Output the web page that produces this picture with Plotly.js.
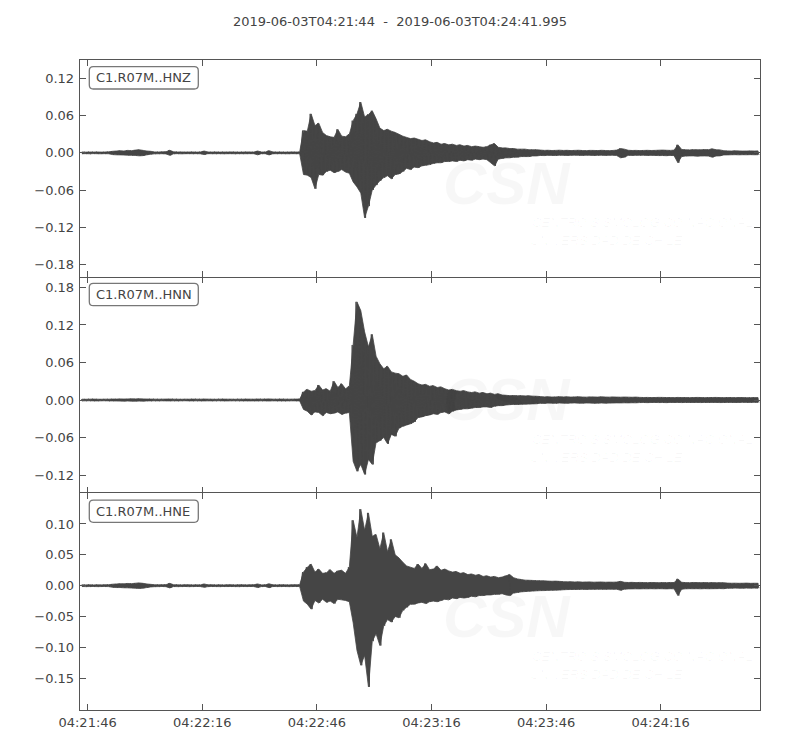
<!DOCTYPE html>
<html>
<head>
<meta charset="utf-8">
<script src="https://cdn.plot.ly/plotly-3.0.1.min.js"></script>
<style>html,body{margin:0;padding:0;background:#fff;}#chart{width:800px;height:750px;}</style>
</head>
<body>
<div id="chart"></div>
<script>
// ---- data (per-second upper / lower envelope of each trace) ----
const startTime = "2019-06-03T04:21:44";
const endTime = "2019-06-03T04:24:41.995";
const channels = ["C1.R07M..HNZ", "C1.R07M..HNN", "C1.R07M..HNE"];

const hnzUpper = [
0.0015,0.0012,0.0014,0.0013,0.0015,0.0012,0.0014,0.0016,0.0025,0.0030,
0.0035,0.0030,0.0040,0.0035,0.0045,0.0050,0.0040,0.0030,0.0025,0.0015,
0.0014,0.0016,0.0018,0.0042,0.0016,0.0014,0.0015,0.0013,0.0014,0.0015,
0.0012,0.0014,0.0030,0.0014,0.0013,0.0015,0.0012,0.0014,0.0013,0.0015,
0.0014,0.0012,0.0013,0.0015,0.0014,0.0013,0.0030,0.0014,0.0013,0.0035,
0.0015,0.0013,0.0014,0.0012,0.0013,0.0015,0.0014,0.0013,0.036,0.035,
0.063,0.044,0.048,0.033,0.028,0.026,0.025,0.038,0.027,0.026,
0.030,0.052,0.063,0.082,0.058,0.062,0.068,0.055,0.040,0.036,
0.038,0.035,0.033,0.030,0.027,0.025,0.023,0.024,0.022,0.020,
0.021,0.018,0.016,0.017,0.014,0.015,0.013,0.014,0.012,0.013,
0.011,0.012,0.010,0.011,0.010,0.009,0.010,0.013,0.015,0.009,
0.008,0.008,0.007,0.007,0.006,0.006,0.006,0.005,0.005,0.005,
0.0045,0.0040,0.0042,0.0038,0.0040,0.0043,0.0039,0.0041,0.0037,0.0040,
0.0042,0.0038,0.0036,0.0040,0.0039,0.0037,0.0041,0.0038,0.0036,0.0039,
0.0045,0.0070,0.0060,0.0042,0.0038,0.0040,0.0037,0.0039,0.0041,0.0038,
0.0040,0.0043,0.0045,0.0042,0.0040,0.0044,0.0130,0.0055,0.0050,0.0048,
0.0052,0.0050,0.0049,0.0053,0.0051,0.0065,0.0050,0.0048,0.0035,0.0032,
0.0030,0.0033,0.0031,0.0029,0.0030,0.0032,0.0030,0.0031];
const hnzLower = [
-0.0014,-0.0013,-0.0015,-0.0012,-0.0014,-0.0015,-0.0013,-0.0015,-0.0028,-0.0032,
-0.0033,-0.0035,-0.0038,-0.0040,-0.0042,-0.0048,-0.0045,-0.0032,-0.0022,-0.0016,
-0.0015,-0.0014,-0.0017,-0.0040,-0.0015,-0.0013,-0.0016,-0.0014,-0.0013,-0.0014,
-0.0013,-0.0015,-0.0028,-0.0013,-0.0014,-0.0014,-0.0013,-0.0015,-0.0014,-0.0013,
-0.0015,-0.0013,-0.0014,-0.0014,-0.0013,-0.0014,-0.0032,-0.0013,-0.0014,-0.0033,
-0.0014,-0.0014,-0.0013,-0.0014,-0.0015,-0.0013,-0.0014,-0.0014,-0.035,-0.036,
-0.040,-0.058,-0.035,-0.036,-0.030,-0.028,-0.032,-0.030,-0.027,-0.031,
-0.033,-0.047,-0.055,-0.065,-0.105,-0.086,-0.060,-0.052,-0.045,-0.040,
-0.037,-0.042,-0.035,-0.034,-0.030,-0.025,-0.027,-0.023,-0.024,-0.021,
-0.020,-0.019,-0.017,-0.016,-0.016,-0.014,-0.014,-0.013,-0.014,-0.012,
-0.013,-0.011,-0.012,-0.010,-0.011,-0.010,-0.011,-0.016,-0.021,-0.010,
-0.009,-0.008,-0.008,-0.007,-0.007,-0.006,-0.006,-0.006,-0.005,-0.005,
-0.0042,-0.0044,-0.0039,-0.0041,-0.0043,-0.0038,-0.0040,-0.0042,-0.0039,-0.0037,
-0.0040,-0.0041,-0.0038,-0.0039,-0.0042,-0.0040,-0.0038,-0.0041,-0.0039,-0.0038,
-0.0044,-0.0080,-0.0070,-0.0040,-0.0041,-0.0039,-0.0040,-0.0038,-0.0042,-0.0040,
-0.0041,-0.0044,-0.0043,-0.0046,-0.0041,-0.0045,-0.0160,-0.0058,-0.0052,-0.0050,
-0.0049,-0.0053,-0.0051,-0.0050,-0.0052,-0.0070,-0.0051,-0.0049,-0.0034,-0.0033,
-0.0031,-0.0030,-0.0032,-0.0030,-0.0031,-0.0029,-0.0031,-0.0030];

const hnnUpper = [
0.0013,0.0012,0.0014,0.0015,0.0013,0.0012,0.0014,0.0013,0.0016,0.0015,
0.0018,0.0016,0.0017,0.0019,0.0018,0.0020,0.0017,0.0016,0.0015,0.0014,
0.0013,0.0014,0.0015,0.0016,0.0014,0.0013,0.0012,0.0014,0.0013,0.0015,
0.0014,0.0013,0.0016,0.0014,0.0013,0.0012,0.0014,0.0015,0.0013,0.0014,
0.0012,0.0014,0.0013,0.0015,0.0014,0.0013,0.0016,0.0014,0.0015,0.0017,
0.0014,0.0013,0.0015,0.0014,0.0013,0.0014,0.0015,0.0016,0.013,0.017,
0.014,0.015,0.024,0.016,0.018,0.014,0.030,0.020,0.026,0.018,
0.022,0.088,0.157,0.143,0.109,0.085,0.105,0.070,0.058,0.050,
0.054,0.045,0.043,0.042,0.038,0.040,0.033,0.030,0.026,0.024,
0.025,0.022,0.023,0.020,0.021,0.018,0.016,0.017,0.015,0.014,
0.015,0.013,0.012,0.013,0.011,0.012,0.010,0.011,0.009,0.010,
0.008,0.0075,0.007,0.0072,0.0068,0.007,0.0065,0.0068,0.0062,0.006,
0.0055,0.005,0.0052,0.0048,0.005,0.0053,0.0049,0.0051,0.0047,0.005,
0.0052,0.0048,0.0046,0.005,0.0049,0.0047,0.0051,0.0048,0.0046,0.0049,
0.0047,0.0045,0.0048,0.0046,0.0044,0.0047,0.0042,0.0040,0.0041,0.0039,
0.0040,0.0042,0.0041,0.0039,0.0040,0.0038,0.0041,0.0039,0.0040,0.0038,
0.0039,0.0041,0.0040,0.0038,0.0039,0.0040,0.0041,0.0039,0.0038,0.0040,
0.0039,0.0038,0.0040,0.0039,0.0037,0.0038,0.0039,0.0037];
const hnnLower = [
-0.0014,-0.0013,-0.0012,-0.0014,-0.0015,-0.0013,-0.0012,-0.0014,-0.0015,-0.0016,
-0.0017,-0.0018,-0.0016,-0.0018,-0.0019,-0.0017,-0.0018,-0.0015,-0.0014,-0.0013,
-0.0014,-0.0013,-0.0014,-0.0015,-0.0013,-0.0014,-0.0013,-0.0012,-0.0014,-0.0014,
-0.0013,-0.0014,-0.0015,-0.0013,-0.0014,-0.0013,-0.0012,-0.0014,-0.0015,-0.0013,
-0.0013,-0.0013,-0.0014,-0.0014,-0.0015,-0.0014,-0.0015,-0.0013,-0.0014,-0.0016,
-0.0013,-0.0014,-0.0014,-0.0015,-0.0014,-0.0013,-0.0014,-0.0015,-0.015,-0.018,
-0.024,-0.019,-0.020,-0.025,-0.020,-0.022,-0.021,-0.019,-0.023,-0.021,
-0.020,-0.098,-0.114,-0.103,-0.119,-0.095,-0.103,-0.068,-0.065,-0.060,
-0.070,-0.055,-0.058,-0.045,-0.042,-0.040,-0.038,-0.035,-0.028,-0.027,
-0.025,-0.024,-0.022,-0.023,-0.020,-0.019,-0.022,-0.018,-0.016,-0.015,
-0.014,-0.014,-0.013,-0.012,-0.012,-0.011,-0.011,-0.012,-0.010,-0.009,
-0.009,-0.008,-0.0075,-0.007,-0.0072,-0.0068,-0.0066,-0.0065,-0.0062,-0.006,
-0.0052,-0.0054,-0.0049,-0.0051,-0.0053,-0.0048,-0.005,-0.0052,-0.0049,-0.0047,
-0.005,-0.0051,-0.0048,-0.0049,-0.0052,-0.005,-0.0048,-0.0051,-0.0049,-0.0048,
-0.0046,-0.0047,-0.0045,-0.0046,-0.0044,-0.0045,-0.0041,-0.0040,-0.0042,-0.0040,
-0.0039,-0.0041,-0.0040,-0.0042,-0.0039,-0.0040,-0.0038,-0.0041,-0.0039,-0.0040,
-0.0040,-0.0038,-0.0041,-0.0039,-0.0040,-0.0038,-0.0039,-0.0041,-0.0040,-0.0038,
-0.0038,-0.0040,-0.0039,-0.0037,-0.0038,-0.0039,-0.0037,-0.0038];

const hneUpper = [
0.0014,0.0013,0.0015,0.0012,0.0014,0.0013,0.0015,0.0016,0.0024,0.0028,
0.0032,0.0030,0.0036,0.0033,0.0040,0.0045,0.0038,0.0028,0.0022,0.0015,
0.0014,0.0015,0.0017,0.0038,0.0015,0.0014,0.0013,0.0015,0.0014,0.0013,
0.0014,0.0013,0.0028,0.0014,0.0015,0.0013,0.0014,0.0012,0.0014,0.0015,
0.0013,0.0014,0.0015,0.0013,0.0014,0.0015,0.0028,0.0013,0.0014,0.0030,
0.0014,0.0013,0.0015,0.0014,0.0013,0.0014,0.0015,0.0014,0.022,0.030,
0.035,0.022,0.027,0.020,0.021,0.026,0.020,0.024,0.025,0.020,
0.030,0.106,0.078,0.124,0.090,0.118,0.080,0.083,0.060,0.086,
0.055,0.075,0.050,0.045,0.038,0.032,0.030,0.028,0.035,0.028,
0.036,0.026,0.027,0.032,0.025,0.027,0.024,0.022,0.023,0.020,
0.021,0.018,0.019,0.017,0.018,0.015,0.016,0.014,0.015,0.013,
0.014,0.016,0.018,0.013,0.011,0.010,0.009,0.0088,0.0085,0.0082,
0.008,0.0078,0.0075,0.0072,0.0074,0.007,0.0065,0.0062,0.0064,0.006,
0.0062,0.0058,0.006,0.0061,0.0057,0.0059,0.006,0.0056,0.0058,0.0057,
0.0059,0.007,0.0055,0.0052,0.0054,0.005,0.0053,0.0051,0.0049,0.0052,
0.005,0.0048,0.0051,0.0049,0.0052,0.005,0.011,0.0055,0.005,0.0048,
0.0052,0.005,0.0049,0.0051,0.0048,0.005,0.0047,0.0049,0.0048,0.0042,
0.004,0.0041,0.0039,0.004,0.0042,0.0038,0.004,0.0039];
const hneLower = [
-0.0013,-0.0015,-0.0014,-0.0013,-0.0015,-0.0014,-0.0013,-0.0015,-0.0026,-0.0030,
-0.0030,-0.0034,-0.0035,-0.0038,-0.0041,-0.0044,-0.0040,-0.0030,-0.0021,-0.0016,
-0.0015,-0.0013,-0.0016,-0.0036,-0.0014,-0.0015,-0.0014,-0.0013,-0.0015,-0.0014,
-0.0013,-0.0014,-0.0026,-0.0015,-0.0013,-0.0014,-0.0015,-0.0013,-0.0014,-0.0013,
-0.0014,-0.0015,-0.0013,-0.0014,-0.0013,-0.0014,-0.0030,-0.0014,-0.0013,-0.0032,
-0.0013,-0.0014,-0.0014,-0.0013,-0.0015,-0.0014,-0.0013,-0.0014,-0.025,-0.030,
-0.038,-0.024,-0.028,-0.022,-0.027,-0.025,-0.029,-0.022,-0.023,-0.024,
-0.026,-0.060,-0.105,-0.129,-0.113,-0.164,-0.090,-0.078,-0.097,-0.065,
-0.055,-0.059,-0.050,-0.052,-0.040,-0.035,-0.030,-0.030,-0.028,-0.027,
-0.029,-0.026,-0.025,-0.026,-0.024,-0.022,-0.023,-0.020,-0.021,-0.019,
-0.020,-0.019,-0.017,-0.018,-0.016,-0.016,-0.015,-0.015,-0.014,-0.014,
-0.013,-0.015,-0.016,-0.012,-0.011,-0.010,-0.0095,-0.009,-0.0087,-0.0083,
-0.008,-0.0079,-0.0076,-0.0074,-0.0072,-0.0071,-0.0066,-0.0063,-0.0062,-0.0061,
-0.006,-0.0059,-0.0061,-0.0058,-0.0059,-0.0057,-0.0058,-0.0059,-0.0056,-0.0058,
-0.0057,-0.0075,-0.0056,-0.0053,-0.0052,-0.0051,-0.0052,-0.005,-0.0051,-0.0049,
-0.0051,-0.0049,-0.005,-0.0052,-0.0049,-0.0051,-0.016,-0.0056,-0.0051,-0.0049,
-0.005,-0.0049,-0.0051,-0.0048,-0.005,-0.0049,-0.0048,-0.0047,-0.0049,-0.0041,
-0.0041,-0.0039,-0.0040,-0.0041,-0.0039,-0.0040,-0.0039,-0.0040];

const xTickVals = ["2019-06-03 04:21:46","2019-06-03 04:22:16","2019-06-03 04:22:46","2019-06-03 04:23:16","2019-06-03 04:23:46","2019-06-03 04:24:16"];
const xTickText = ["04:21:46","04:22:16","04:22:46","04:23:16","04:23:46","04:24:16"];
const hnzTickVals = [-0.18,-0.12,-0.06,0,0.06,0.12];
const hnzTickText = ["\u22120.18","\u22120.12","\u22120.06","0.00","0.06","0.12"];
const hnnTickVals = [-0.12,-0.06,0,0.06,0.12,0.18];
const hnnTickText = ["\u22120.12","\u22120.06","0.00","0.06","0.12","0.18"];
const hneTickVals = [-0.15,-0.10,-0.05,0,0.05,0.10];
const hneTickText = ["\u22120.15","\u22120.10","\u22120.05","0.00","0.05","0.10"];

// ---- build ----
const T0 = Date.parse(startTime + "Z");
const T1 = Date.parse(endTime + "Z");
function iso(ms){ return new Date(ms).toISOString().replace('T',' ').replace('Z',''); }
const traceColor = '#454545';

// filled min/max band (large seismograms are drawn as min/max per time bin)
function band(up, lo, xa, ya){
  const n = Math.min(up.length, lo.length);
  const x = [], y = [];
  for (let i = 0; i < n; i++){ x.push(iso(T0 + (i + 0.5) * 1000)); y.push(up[i]); }
  for (let i = n - 1; i >= 0; i--){ x.push(iso(T0 + (i + 0.5) * 1000)); y.push(lo[i]); }
  return {x, y, type:'scatter', mode:'lines', fill:'toself', fillcolor:traceColor,
          xaxis:xa, yaxis:ya, line:{color:traceColor, width:0.8, simplify:false}, hoverinfo:'skip'};
}
// thin zig-zag between the per-bin extremes, drawn over the band
function zig(up, lo, xa, ya){
  const x = [], y = [];
  const n = Math.min(up.length, lo.length);
  for (let i = 0; i < n; i++){
    x.push(iso(T0 + (i + 0.25) * 1000)); y.push(up[i]);
    x.push(iso(T0 + (i + 0.75) * 1000)); y.push(lo[i]);
  }
  return {x, y, type:'scatter', mode:'lines', xaxis:xa, yaxis:ya,
          line:{color:traceColor, width:0.9, simplify:false}, hoverinfo:'skip'};
}

const traces = [
  band(hnzUpper, hnzLower, 'x3', 'y3'), zig(hnzUpper, hnzLower, 'x3', 'y3'),
  band(hnnUpper, hnnLower, 'x2', 'y2'), zig(hnnUpper, hnnLower, 'x2', 'y2'),
  band(hneUpper, hneLower, 'x', 'y'),   zig(hneUpper, hneLower, 'x', 'y')
];

const axisColor = '#555';
const baseX = {
  type:'date', range:[iso(T0), iso(T1)], tickvals:xTickVals, ticktext:xTickText,
  ticks:'inside', ticklen:6, tickwidth:1, tickcolor:axisColor, mirror:'ticks',
  showline:true, linecolor:axisColor, linewidth:1.3, showgrid:false, zeroline:false,
  tickfont:{size:13, color:'#444'}
};
const baseY = {
  ticks:'inside', ticklen:6, tickwidth:1, tickcolor:axisColor, mirror:'ticks',
  showline:true, linecolor:axisColor, linewidth:1.3, showgrid:false, zeroline:false,
  tickmode:'array', tickfont:{size:13, color:'#444'}, ticklabelstandoff:2
};

// panel geometry in pixels (for label boxes / watermark)
const L = 80, R = 760, TOP = 60, BOT = 710, PH = (BOT - TOP) / 3;
const px = v => (v - L) / (R - L);
const py = v => (BOT - v) / (BOT - TOP);

const wmColor = 'rgba(0,0,0,0.03)';
const shapes = [], annotations = [];
for (let k = 0; k < 3; k++){
  const pt = TOP + k * PH;
  const x0 = 89.3, x1 = 198.3, y0 = pt + 6.7, y1 = pt + 29, r = 4;
  const P = (a, b) => px(a).toFixed(5) + ',' + py(b).toFixed(5);
  const path = 'M' + P(x0 + r, y0) + ' L' + P(x1 - r, y0) + ' Q' + P(x1, y0) + ' ' + P(x1, y0 + r) +
    ' L' + P(x1, y1 - r) + ' Q' + P(x1, y1) + ' ' + P(x1 - r, y1) +
    ' L' + P(x0 + r, y1) + ' Q' + P(x0, y1) + ' ' + P(x0, y1 - r) +
    ' L' + P(x0, y0 + r) + ' Q' + P(x0, y0) + ' ' + P(x0 + r, y0) + ' Z';
  shapes.push({type:'path', xref:'paper', yref:'paper', path:path,
               line:{color:'#777', width:1.3}, fillcolor:'rgba(255,255,255,0.9)', layer:'above'});
  annotations.push({xref:'paper', yref:'paper', x:px(94), y:py((y0 + y1) / 2), xanchor:'left', yanchor:'middle',
                    text:channels[k], showarrow:false, font:{size:13, color:'#444'}});
  // faint CSN watermark
  annotations.push({xref:'paper', yref:'paper', x:px(507), y:py(pt + 123), xanchor:'center', yanchor:'middle',
                    text:'CSN', showarrow:false,
                    font:{family:'Liberation Sans', size:60, weight:'bold', style:'italic', color:wmColor}});
  annotations.push({xref:'paper', yref:'paper', x:px(530), y:py(pt + 163), xanchor:'left', yanchor:'middle',
                    text:'CENTRO SISMOLÓGICO NACIONAL', showarrow:false,
                    font:{family:'Liberation Sans', size:13, style:'italic', color:wmColor}});
  annotations.push({xref:'paper', yref:'paper', x:px(528), y:py(pt + 181), xanchor:'left', yanchor:'middle',
                    text:'UNIVERSIDAD DE CHILE', showarrow:false,
                    font:{family:'Liberation Sans', size:13, style:'italic', color:wmColor}});
}

const layout = {
  width:800, height:750,
  margin:{l:80, r:40, t:60, b:40},
  paper_bgcolor:'#fff', plot_bgcolor:'#fff',
  showlegend:false,
  font:{family:'DejaVu Sans', size:13, color:'#444'},
  title:{text:'2019-06-03T04:21:44\u00a0\u00a0-\u00a0\u00a02019-06-03T04:24:41.995',
         x:0.5, xanchor:'center', y:1 - 21/750, yanchor:'middle', yref:'container',
         font:{family:'DejaVu Sans', size:13, color:'#444'}},
  // boundaries between panels are drawn once: top and bottom panel draw lines, middle only ticks
  xaxis: Object.assign({}, baseX, {anchor:'y', domain:[0,1]}),
  xaxis2: Object.assign({}, baseX, {anchor:'y2', domain:[0,1], showticklabels:false, showline:false}),
  xaxis3: Object.assign({}, baseX, {anchor:'y3', domain:[0,1], showticklabels:false}),
  yaxis: Object.assign({}, baseY, {anchor:'x', domain:[0,1/3], range:[-0.2015,0.1497], tickvals:hneTickVals, ticktext:hneTickText}),
  yaxis2: Object.assign({}, baseY, {anchor:'x2', domain:[1/3,2/3], range:[-0.1493,0.1973], tickvals:hnnTickVals, ticktext:hnnTickText}),
  yaxis3: Object.assign({}, baseY, {anchor:'x3', domain:[2/3,1], range:[-0.2,0.15], tickvals:hnzTickVals, ticktext:hnzTickText}),
  shapes:shapes,
  annotations:annotations
};

Plotly.newPlot('chart', traces, layout, {displayModeBar:false, staticPlot:true});
</script>
</body>
</html>
